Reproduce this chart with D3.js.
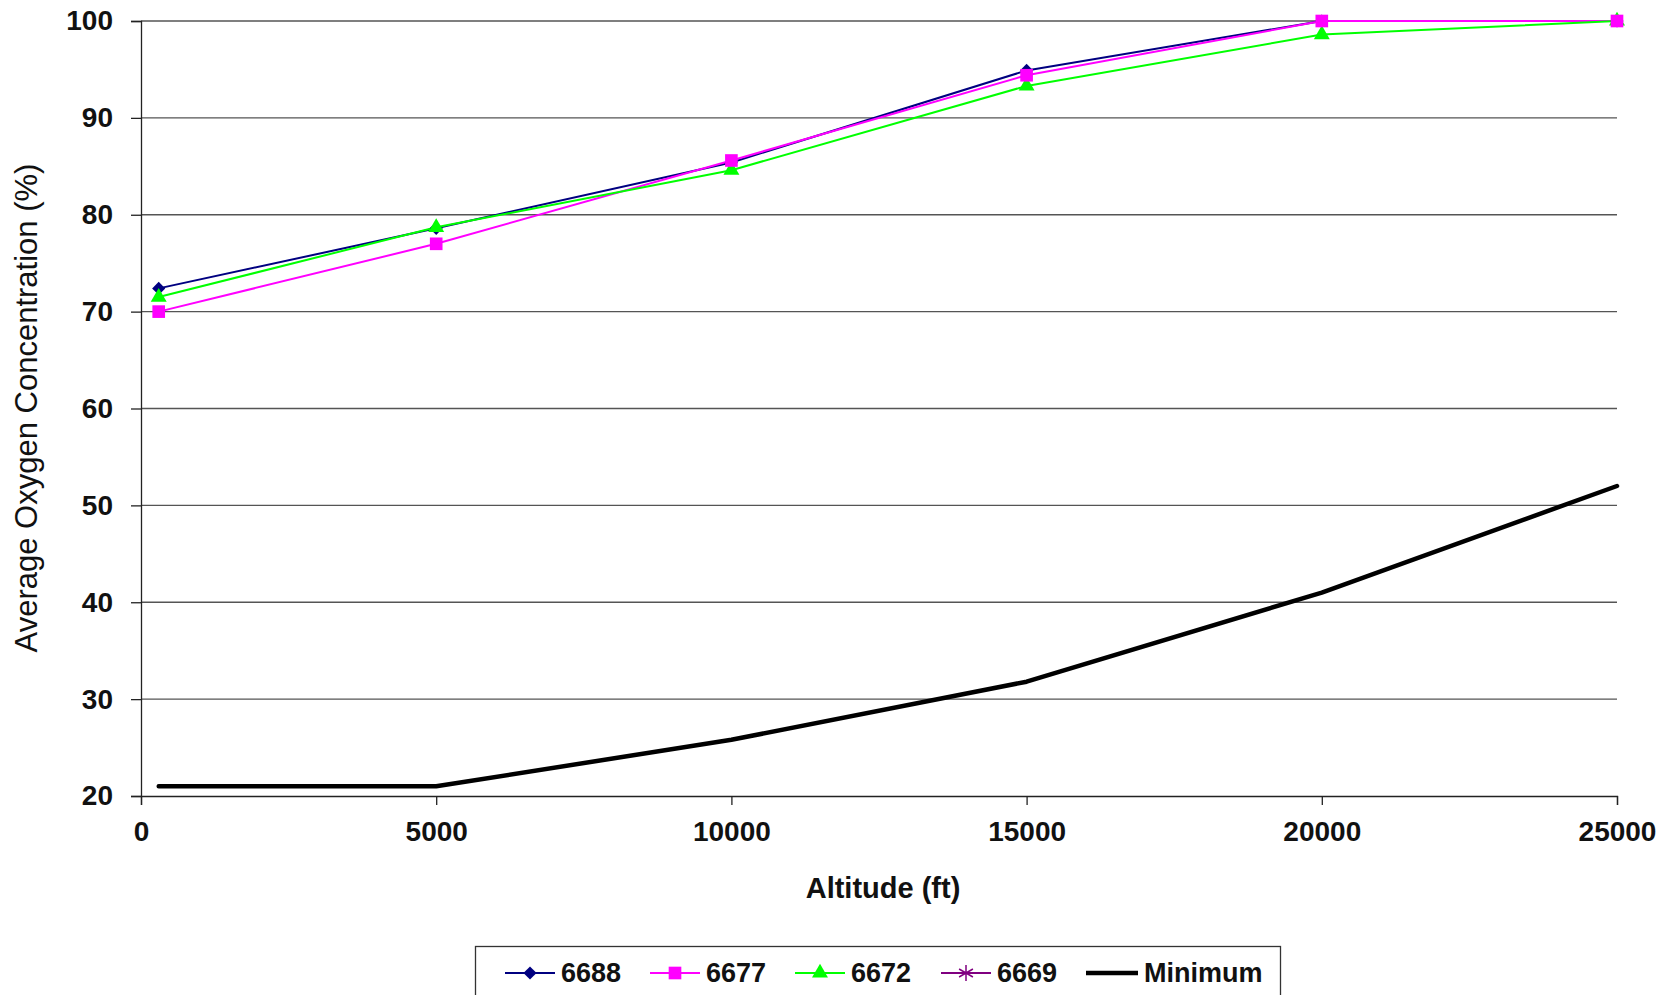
<!DOCTYPE html>
<html>
<head>
<meta charset="utf-8">
<script src="https://cdn.jsdelivr.net/npm/d3@7"></script>
<style>
  html, body { margin: 0; padding: 0; background: #fff; }
  svg { display: block; font-family: "Liberation Sans", Arial, sans-serif; }
</style>
</head>
<body>
<svg id="chart" width="1675" height="995"></svg>
<script>
// ---- data ----
const altitudes = [300, 5000, 10000, 15000, 20000, 25000];
const s6688 = [72.4, 78.6, 85.4, 94.9, 100, 100];
const s6677 = [70.0, 77.0, 85.6, 94.4, 100, 100];
const s6672 = [71.5, 78.7, 84.6, 93.3, 98.6, 100];
const s6669 = [null, null, null, null, null, null];
const sMinimum = [21, 21, 25.8, 31.8, 41.0, 52.0];
const xTicks = [0, 5000, 10000, 15000, 20000, 25000];
const yTicks = [20, 30, 40, 50, 60, 70, 80, 90, 100];
const seriesNames = ["6688", "6677", "6672", "6669", "Minimum"];

(function () {
// ---- layout ----
const svg = d3.select("#chart");
const mLeft = 141, mRight = 1617, mTop = 21, mBottom = 796;
const x = d3.scaleLinear().domain([0, 25000]).range([mLeft, mRight]);
const y = d3.scaleLinear().domain([20, 100]).range([mBottom, mTop]);

const series = [
  { name: seriesNames[0], values: s6688, color: "#000080", marker: "diamond", width: 2 },
  { name: seriesNames[1], values: s6677, color: "#ff00ff", marker: "square", width: 2 },
  { name: seriesNames[2], values: s6672, color: "#00ff00", marker: "triangle", width: 2 },
  { name: seriesNames[3], values: s6669, color: "#800080", marker: "star", width: 2 },
  { name: seriesNames[4], values: sMinimum, color: "#000000", marker: null, width: 4.5 }
];

// gridlines
svg.append("g").selectAll("line").data(yTicks.filter(d => d > 20)).join("line")
  .attr("x1", mLeft).attr("x2", mRight)
  .attr("y1", d => y(d)).attr("y2", d => y(d))
  .attr("stroke", "#555").attr("stroke-width", 1.3);

// axes
const yAxis = d3.axisLeft(y).tickValues(yTicks).tickSize(10).tickPadding(18).tickFormat(d3.format("d"));
const gy = svg.append("g").attr("transform", `translate(${mLeft},0)`).call(yAxis);
gy.select(".domain").attr("stroke", "#222").attr("stroke-width", 1.3);
gy.selectAll(".tick line").attr("stroke", "#222").attr("stroke-width", 1.3);
gy.selectAll("text").attr("font-size", 28).attr("font-weight", "bold").attr("fill", "#111")
  .attr("font-family", "Liberation Sans, Arial, sans-serif");

const xAxis = d3.axisBottom(x).tickValues(xTicks).tickSize(9).tickPadding(16).tickFormat(d3.format("d"));
const gx = svg.append("g").attr("transform", `translate(0,${mBottom})`).call(xAxis);
gx.select(".domain").attr("stroke", "#222").attr("stroke-width", 1.3);
gx.selectAll(".tick line").attr("stroke", "#222").attr("stroke-width", 1.3);
gx.selectAll("text").attr("font-size", 28).attr("font-weight", "bold").attr("fill", "#111")
  .attr("font-family", "Liberation Sans, Arial, sans-serif");

// axis titles
svg.append("text").attr("x", 883).attr("y", 898).attr("text-anchor", "middle")
  .attr("font-size", 29).attr("font-weight", "bold").attr("fill", "#111").text("Altitude (ft)");
svg.append("text").attr("transform", "translate(37,408) rotate(-90)").attr("text-anchor", "middle")
  .attr("font-size", 31).attr("fill", "#111").text("Average Oxygen Concentration (%)");

// markers
const sym = {
  diamond: d3.symbol().type(d3.symbolDiamond2).size(110),
  square: d3.symbol().type(d3.symbolSquare).size(160),
  triangle: d3.symbol().type(d3.symbolTriangle).size(110),
  star: d3.symbol().type(d3.symbolAsterisk).size(180)
};
function drawMarker(g, s, cx, cy) {
  const p = g.append("path").attr("d", sym[s.marker]())
    .attr("transform", `translate(${cx},${cy})`);
  if (s.marker === "star") p.attr("fill", "none").attr("stroke", s.color).attr("stroke-width", 1.5);
  else p.attr("fill", s.color);
}

// lines
const plot = svg.append("g");
series.forEach(s => {
  const pts = altitudes.map((a, i) => [a, s.values[i]]).filter(d => d[1] != null);
  if (!pts.length) return;
  const line = d3.line().x(d => x(d[0])).y(d => y(d[1])).curve(d3.curveLinear);
  plot.append("path").datum(pts).attr("d", line)
    .attr("fill", "none").attr("stroke", s.color).attr("stroke-width", s.width)
    .attr("stroke-linejoin", "round").attr("stroke-linecap", "round");
});
// marker order: 6688, 6672, 6677
[0, 2, 1, 3].forEach(k => {
  const s = series[k];
  const g = plot.append("g");
  altitudes.forEach((a, i) => {
    if (s.values[i] != null) drawMarker(g, s, x(a), y(s.values[i]));
  });
});

// legend
const lg = svg.append("g");
lg.append("rect").attr("x", 475.5).attr("y", 946.5).attr("width", 805).attr("height", 80)
  .attr("fill", "#fff").attr("stroke", "#333").attr("stroke-width", 1.3);
const legendX = [505, 650, 795, 941, 1086];
const ly = 973;
series.forEach((s, i) => {
  const x0 = legendX[i];
  const len = s.name === "Minimum" ? 52 : 50;
  lg.append("line").attr("x1", x0).attr("x2", x0 + len).attr("y1", ly).attr("y2", ly)
    .attr("stroke", s.color).attr("stroke-width", s.width);
  if (s.marker) drawMarker(lg, s, x0 + len / 2, ly);
  lg.append("text").attr("x", x0 + len + 6).attr("y", ly).attr("dy", "0.35em")
    .attr("font-size", 27).attr("font-weight", "bold").attr("fill", "#111").text(s.name);
});
})();
</script>
</body>
</html>
